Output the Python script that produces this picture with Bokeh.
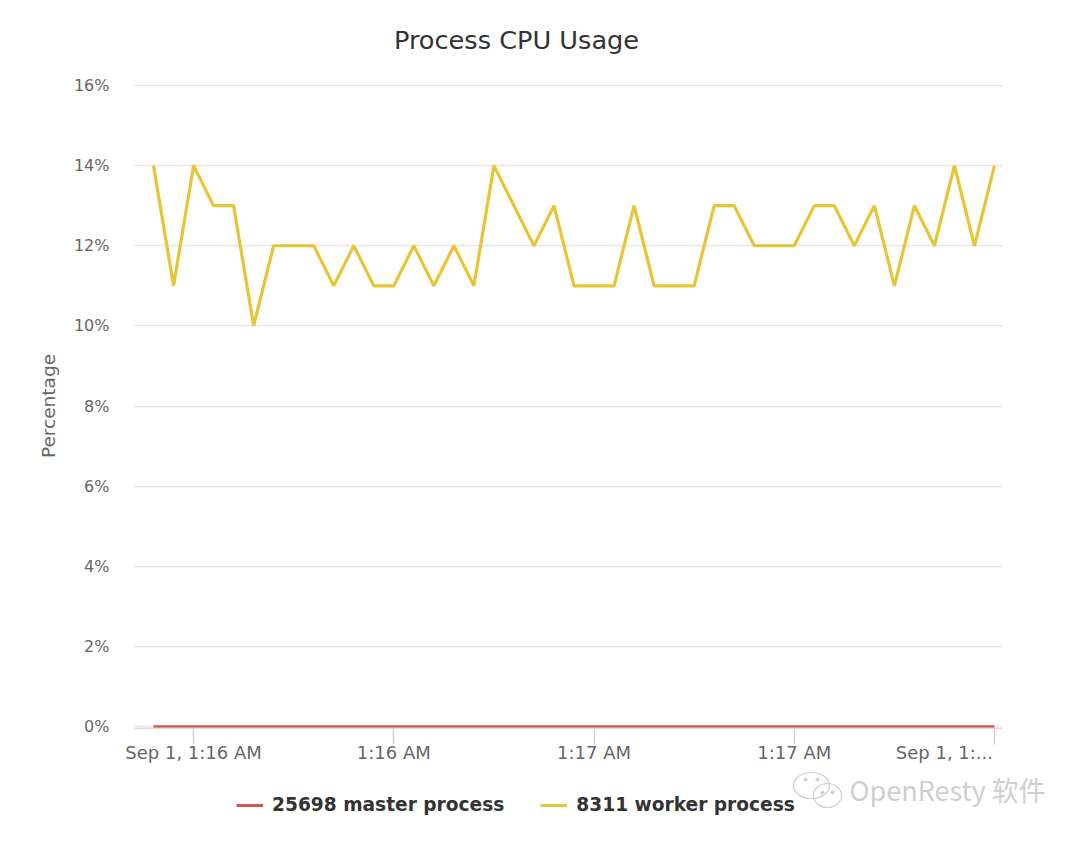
from bokeh.plotting import figure
from bokeh.layouts import column
from bokeh.models import Label, Legend, LegendItem, FixedTicker, Range1d, LinearAxis
from bokeh.embed import file_html
from bokeh.resources import INLINE

title_text = "Process CPU Usage"
y_label = "Percentage"
sample_index = list(range(43))
worker_values = [14, 11, 14, 13, 13, 10, 12, 12, 12, 11, 12, 11, 11, 12, 11, 12, 11, 14, 13, 12, 13, 11,
                 11, 11, 13, 11, 11, 11, 13, 13, 12, 12, 12, 13, 13, 12, 13, 11, 13, 12, 14, 12, 14]
master_values = [0] * 43
x_ticks = [2, 12, 22, 32, 42]
x_label_positions = [2, 12, 22, 32, 39.5]
x_tick_labels = ["Sep 1, 1:16 AM", "1:16 AM", "1:17 AM", "1:17 AM", "Sep 1, 1:..."]
y_ticks = [0, 2, 4, 6, 8, 10, 12, 14, 16]
series_names = ["25698 master process", "8311 worker process"]
watermark = "OpenResty 软件"

FONT = "DejaVu Sans"
GREY = "#666666"
RED = "#cf5a4c"
YELLOW = "#e8c536"
MARK = "#cfcfcf"
PAGE_W = 1072
HEAD_H = 70
FOOT_H = 70


def strip(height):
    """A bare figure whose frame starts level with the chart's and whose data units are page pixels."""
    s = figure(width=PAGE_W, height=height, output_backend="svg", toolbar_location=None,
               frame_width=938, frame_height=height, min_border_left=134, min_border_right=0,
               min_border_top=0, min_border_bottom=0,
               x_range=Range1d(134, 1072), y_range=Range1d(0, height),
               x_axis_type=None, y_axis_type=None)
    s.outline_line_color = None
    s.grid.visible = False
    return s


head = strip(HEAD_H)
head.add_layout(Label(x=516, y=31, text=title_text, text_font=FONT, text_font_size="25.6px",
                      text_color="#333333", text_align="center", text_baseline="middle"))

p = figure(width=PAGE_W, height=700, output_backend="svg", toolbar_location=None,
           frame_width=868, frame_height=645, min_border_left=134, min_border_right=70,
           min_border_top=13, min_border_bottom=0,
           x_range=Range1d(-0.95, 42.4), y_range=Range1d(-0.05, 16.05))
p.outline_line_color = None
p.background_fill_color = "white"

p.xgrid.visible = False
p.ygrid.grid_line_color = "#e6e6e6"
p.ygrid.grid_line_width = 1.5

xa = p.xaxis[0]
xa.ticker = FixedTicker(ticks=x_ticks)
xa.major_label_overrides = {t: "" for t in x_ticks}
xa.major_label_text_font_size = "1px"
xa.major_label_standoff = 0
xa.axis_line_color = "#dcdce0"
xa.axis_line_width = 1.5
xa.major_tick_line_color = "#d0d0d8"
xa.major_tick_line_width = 1.5
xa.major_tick_in = 0
xa.major_tick_out = 16
xa.minor_tick_line_color = None

xb = LinearAxis(ticker=FixedTicker(ticks=x_label_positions),
                major_label_overrides=dict(zip(x_label_positions, x_tick_labels)),
                axis_line_color=None, major_tick_line_color=None, minor_tick_line_color=None,
                major_tick_in=0, major_tick_out=0, major_label_standoff=-3,
                major_label_text_font=FONT, major_label_text_font_size="18px",
                major_label_text_color=GREY)
p.add_layout(xb, "below")

ya = p.yaxis[0]
ya.ticker = FixedTicker(ticks=y_ticks)
ya.major_label_overrides = {v: f"{v}%" for v in y_ticks}
ya.axis_line_color = None
ya.major_tick_line_color = None
ya.minor_tick_line_color = None
ya.major_label_text_font = FONT
ya.major_label_text_font_size = "16px"
ya.major_label_text_color = GREY
ya.major_label_standoff = 19
ya.axis_label = y_label
ya.axis_label_text_font = FONT
ya.axis_label_text_font_size = "18.5px"
ya.axis_label_text_font_style = "normal"
ya.axis_label_text_color = GREY
ya.axis_label_standoff = 12

p.line(sample_index, master_values, line_color=RED, line_width=2.5)
p.line(sample_index, worker_values, line_color=YELLOW, line_width=3.2)

# footer strip: the series are out of its range and only lend their styles to the legend keys
foot = strip(FOOT_H)
k_master = foot.line(sample_index, master_values, line_color=RED, line_width=3)
k_worker = foot.line(sample_index, worker_values, line_color=YELLOW, line_width=3)
legend = Legend(items=[LegendItem(label=series_names[0], renderers=[k_master]),
                       LegendItem(label=series_names[1], renderers=[k_worker])],
                orientation="horizontal", location=(102, 20), margin=0, padding=0,
                border_line_color=None, background_fill_alpha=0,
                label_text_font=FONT, label_text_font_size="18.6px", label_text_font_style="bold",
                label_text_color="#333333", glyph_width=27, spacing=36, label_standoff=9)
foot.add_layout(legend, "center")
foot.add_layout(Label(x=849, y=46, text=watermark, text_font="Noto Sans CJK SC",
                      text_font_size="27px", text_color=MARK, text_baseline="middle"))
foot.ellipse([811, 827], [50, 40], width=[36, 28], height=[26, 24],
             fill_alpha=0, line_color=MARK, line_width=1.2)
foot.scatter([805, 817, 822, 832], [56, 56, 43, 43], size=3, color=MARK)

open("out.html", "w").write(file_html(column(head, p, foot, spacing=0), INLINE))
